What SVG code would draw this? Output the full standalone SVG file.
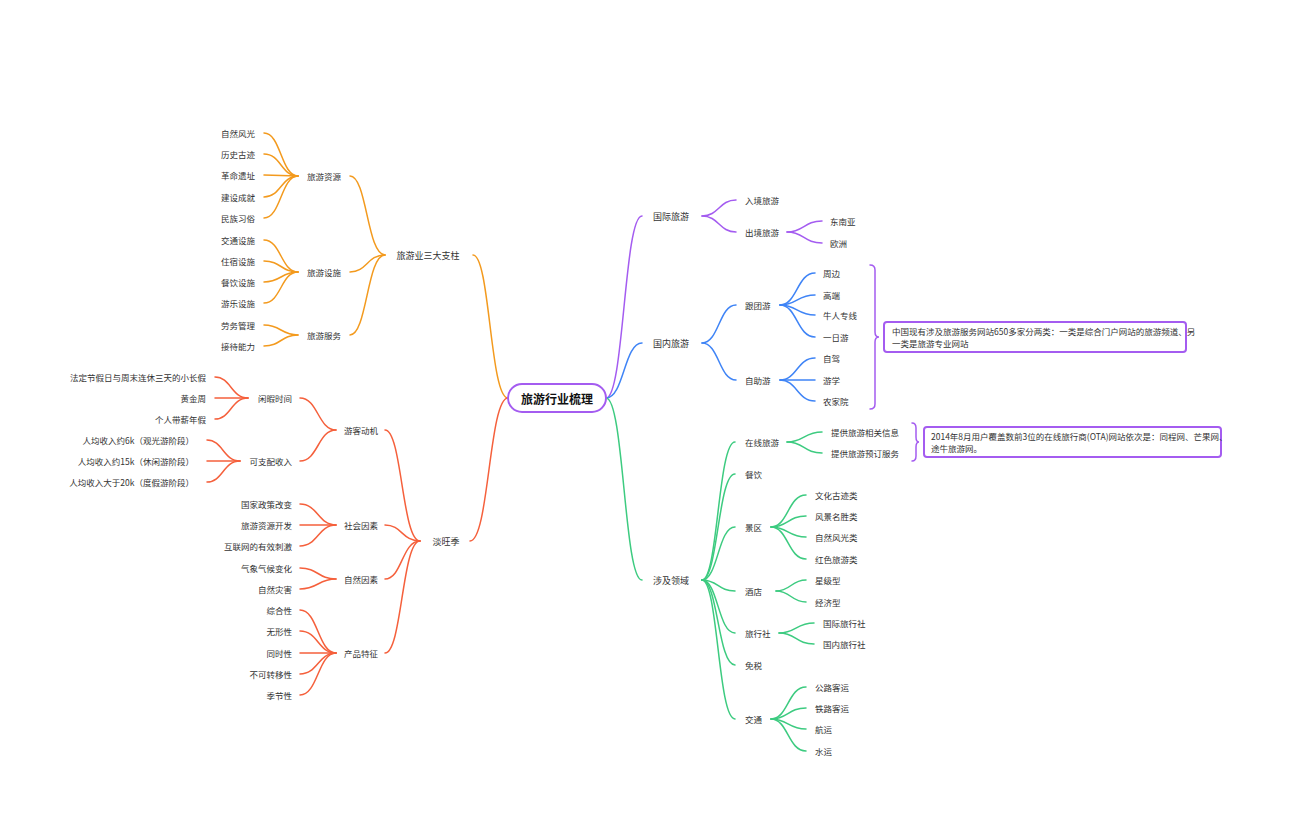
<svg xmlns="http://www.w3.org/2000/svg" width="1296" height="840" viewBox="0 0 1296 840">
<style>
text{font-family:"Noto Sans CJK SC","Liberation Sans",sans-serif;font-size:8.5px;fill:#333;dominant-baseline:central}
.e{text-anchor:end}
.l{fill:none;stroke-width:1.5;stroke-linecap:round}
.o{stroke:#F39A1E}.r{stroke:#F5603C}.p{stroke:#A45CF0}.b{stroke:#3F84F6}.g{stroke:#3DCB80}
.box{fill:#fff;stroke:#A45CF0;stroke-width:2}
</style>
<rect width="1296" height="840" fill="#fff"/>
<g id="connectors">
<g class="l o">
<path d="M508 398 C490 398 490 255 473 255"/>
<path d="M385 255 C367 255 367 176 350 176"/><path d="M385 255 C367 255 367 272 350 272"/><path d="M385 255 C367 255 367 335 350 335"/>
<path d="M298 176 C281 176 281 133 264 133"/><path d="M298 176 C281 176 281 154 264 154"/><path d="M298 176 L264 175"/><path d="M298 176 C281 176 281 197 264 197"/><path d="M298 176 C281 176 281 218 264 218"/>
<path d="M298 272 C281 272 281 240 264 240"/><path d="M298 272 C281 272 281 261 264 261"/><path d="M298 272 C281 272 281 282 264 282"/><path d="M298 272 C281 272 281 303 264 303"/>
<path d="M298 335 C281 335 281 325 264 325"/><path d="M298 335 C281 335 281 346 264 346"/>
</g>
<g class="l r">
<path d="M508 398 C489 398 489 541 470 541"/>
<path d="M420 541 C402 541 402 430 385 430"/><path d="M420 541 C402 541 402 525 385 525"/><path d="M420 541 C402 541 402 579 385 579"/><path d="M420 541 C402 541 402 653 385 653"/>
<path d="M336 430 C318 430 318 398 300 398"/><path d="M336 430 C318 430 318 461 300 461"/>
<path d="M248 398 C231 398 231 377 215 377"/><path d="M248 398 L215 398"/><path d="M248 398 C231 398 231 419 215 419"/>
<path d="M240 461 C223 461 223 440 207 440"/><path d="M240 461 L207 461"/><path d="M240 461 C223 461 223 482 207 482"/>
<path d="M336 525 C318 525 318 504 300 504"/><path d="M336 525 L300 525"/><path d="M336 525 C318 525 318 546 300 546"/>
<path d="M336 579 C318 579 318 568 300 568"/><path d="M336 579 C318 579 318 589 300 589"/>
<path d="M336 653 C318 653 318 610 300 610"/><path d="M336 653 C318 653 318 631 300 631"/><path d="M336 653 L300 653"/><path d="M336 653 C318 653 318 674 300 674"/><path d="M336 653 C318 653 318 695 300 695"/>
</g>
<g class="l p">
<path d="M606 398 C624 398 624 216 642 216"/>
<path d="M702 216 C719 216 719 200 736 200"/><path d="M702 216 C719 216 719 232 736 232"/>
<path d="M787 232 C804 232 804 221 822 221"/><path d="M787 232 C804 232 804 243 822 243"/>
</g>
<g class="l b">
<path d="M606 398 C624 398 624 343 642 343"/>
<path d="M702 343 C719 343 719 305 736 305"/><path d="M702 343 C719 343 719 380 736 380"/>
<path d="M780 305 C797 305 797 273 815 273"/><path d="M780 305 C797 305 797 295 815 295"/><path d="M780 305 C797 305 797 315 815 315"/><path d="M780 305 C797 305 797 337 815 337"/>
<path d="M780 380 C797 380 797 358 815 358"/><path d="M780 380 L815 380"/><path d="M780 380 C797 380 797 401 815 401"/>
</g>
<g class="l g">
<path d="M606 398 C624 398 624 580 642 580"/>
<path d="M702 580 C718 580 718 442 735 442"/><path d="M702 580 C718 580 718 474 735 474"/><path d="M702 580 C718 580 718 527 735 527"/><path d="M702 580 C718 580 718 591 735 591"/><path d="M702 580 C718 580 718 633 735 633"/><path d="M702 580 C718 580 718 665 735 665"/><path d="M702 580 C718 580 718 719 735 719"/>
<path d="M787 442 C804 442 804 432 822 432"/><path d="M787 442 C804 442 804 453 822 453"/>
<path d="M771 527 C788 527 788 495 806 495"/><path d="M771 527 C788 527 788 516 806 516"/><path d="M771 527 C788 527 788 537 806 537"/><path d="M771 527 C788 527 788 559 806 559"/>
<path d="M776 591 C791 591 791 580 806 580"/><path d="M776 591 C791 591 791 602 806 602"/>
<path d="M779 633 C796 633 796 623 814 623"/><path d="M779 633 C796 633 796 644 814 644"/>
<path d="M771 719 C788 719 788 687 806 687"/><path d="M771 719 C788 719 788 708 806 708"/><path d="M771 719 C788 719 788 729 806 729"/><path d="M771 719 C788 719 788 751 806 751"/>
</g>
<g class="l p">
<path d="M870 265 Q875 265 875 270 L875 332 Q875 337 879 337 Q875 337 875 342 L875 404 Q875 409 870 409"/>
<path d="M912 423 Q916 423 916 428 L916 437 Q916 442 919 442 Q916 442 916 447 L916 456 Q916 461 912 461"/>
</g>
</g>
<g id="root"><rect x="508" y="384" width="98" height="28" rx="14" class="box"/><text x="557" y="398" text-anchor="middle" style="font-size:12px;font-weight:bold;fill:#111">旅游行业梳理</text></g>
<g id="left">
<text x="428" y="255" text-anchor="middle" style="font-size:9px">旅游业三大支柱</text>
<text x="324" y="176" text-anchor="middle">旅游资源</text><text x="324" y="272" text-anchor="middle">旅游设施</text><text x="324" y="335" text-anchor="middle">旅游服务</text>
<text x="255" y="133" class="e">自然风光</text><text x="255" y="154" class="e">历史古迹</text><text x="255" y="175" class="e">革命遗址</text><text x="255" y="197" class="e">建设成就</text><text x="255" y="218" class="e">民族习俗</text>
<text x="255" y="240" class="e">交通设施</text><text x="255" y="261" class="e">住宿设施</text><text x="255" y="282" class="e">餐饮设施</text><text x="255" y="303" class="e">游乐设施</text>
<text x="255" y="325" class="e">劳务管理</text><text x="255" y="346" class="e">接待能力</text>
<text x="446" y="541" text-anchor="middle" style="font-size:9px">淡旺季</text>
<text x="361" y="430" text-anchor="middle">游客动机</text><text x="361" y="525" text-anchor="middle">社会因素</text><text x="361" y="579" text-anchor="middle">自然因素</text><text x="361" y="653" text-anchor="middle">产品特征</text>
<text x="292" y="398" class="e">闲暇时间</text><text x="292" y="461" class="e">可支配收入</text>
<text x="206" y="377" class="e">法定节假日与周末连休三天的小长假</text><text x="206" y="398" class="e">黄金周</text><text x="206" y="419" class="e">个人带薪年假</text>
<text x="194" y="440" class="e">人均收入约6k（观光游阶段）</text><text x="194" y="461" class="e">人均收入约15k（休闲游阶段）</text><text x="194" y="482" class="e">人均收入大于20k（度假游阶段）</text>
<text x="292" y="504" class="e">国家政策改变</text><text x="292" y="525" class="e">旅游资源开发</text><text x="292" y="546" class="e">互联网的有效刺激</text>
<text x="292" y="568" class="e">气象气候变化</text><text x="292" y="589" class="e">自然灾害</text>
<text x="292" y="610" class="e">综合性</text><text x="292" y="631" class="e">无形性</text><text x="292" y="653" class="e">同时性</text><text x="292" y="674" class="e">不可转移性</text><text x="292" y="695" class="e">季节性</text>
</g>
<g id="right">
<text x="653" y="216" style="font-size:9px">国际旅游</text><text x="653" y="343" style="font-size:9px">国内旅游</text><text x="653" y="580" style="font-size:9px">涉及领域</text>
<text x="745" y="200">入境旅游</text><text x="745" y="232">出境旅游</text><text x="830" y="221">东南亚</text><text x="830" y="243">欧洲</text>
<text x="745" y="305">跟团游</text><text x="745" y="380">自助游</text>
<text x="823" y="273">周边</text><text x="823" y="295">高端</text><text x="823" y="315">牛人专线</text><text x="823" y="337">一日游</text>
<text x="823" y="358">自驾</text><text x="823" y="380">游学</text><text x="823" y="401">农家院</text>
<text x="745" y="442">在线旅游</text><text x="745" y="474">餐饮</text><text x="745" y="527">景区</text><text x="745" y="591">酒店</text><text x="745" y="633">旅行社</text><text x="745" y="665">免税</text><text x="745" y="719">交通</text>
<text x="831" y="432">提供旅游相关信息</text><text x="831" y="453">提供旅游预订服务</text>
<text x="815" y="495">文化古迹类</text><text x="815" y="516">风景名胜类</text><text x="815" y="537">自然风光类</text><text x="815" y="559">红色旅游类</text>
<text x="815" y="580">星级型</text><text x="815" y="602">经济型</text>
<text x="823" y="623">国际旅行社</text><text x="823" y="644">国内旅行社</text>
<text x="815" y="687">公路客运</text><text x="815" y="708">铁路客运</text><text x="815" y="729">航运</text><text x="815" y="751">水运</text>
</g>
<g id="note1"><rect x="884" y="322" width="302" height="30" rx="3" class="box"/><text x="892" y="331">中国现有涉及旅游服务网站650多家分两类：一类是综合门户网站的旅游频道、另</text><text x="892" y="343">一类是旅游专业网站</text></g>
<g id="note2"><rect x="924" y="427" width="297" height="30" rx="3" class="box"/><text x="931" y="436">2014年8月用户覆盖数前3位的在线旅行商(OTA)网站依次是：同程网、芒果网、</text><text x="931" y="448">途牛旅游网。</text></g>
</svg>
